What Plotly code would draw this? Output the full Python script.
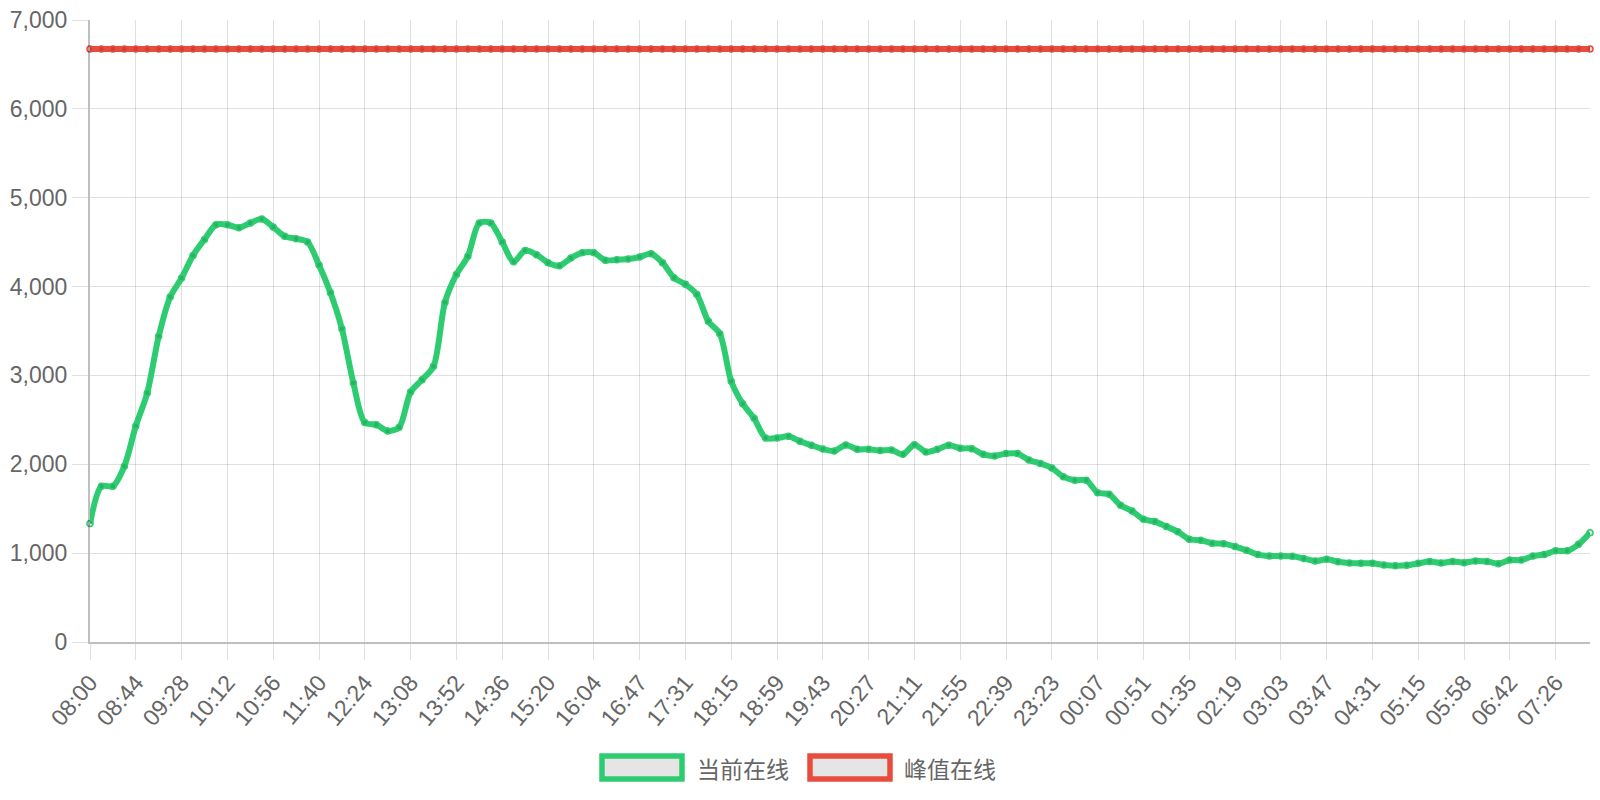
import plotly.graph_objects as go

# ---- data ----
tick_labels = ["08:00", "08:44", "09:28", "10:12", "10:56", "11:40", "12:24", "13:08",
               "13:52", "14:36", "15:20", "16:04", "16:47", "17:31", "18:15", "18:59",
               "19:43", "20:27", "21:11", "21:55", "22:39", "23:23", "00:07", "00:51",
               "01:35", "02:19", "03:03", "03:47", "04:31", "05:15", "05:58", "06:42",
               "07:26"]
points_per_label = 4

current_online = [
    1333, 1753, 1753, 1978, 2431, 2803, 3440, 3883, 4096, 4351,
    4531, 4696, 4696, 4662, 4715, 4760, 4670, 4565, 4539, 4501,
    4242, 3930, 3526, 2915, 2469, 2446, 2375, 2416, 2814, 2952,
    3102, 3822, 4137, 4340, 4715, 4715, 4501, 4280, 4407, 4359,
    4269, 4235, 4321, 4381, 4381, 4295, 4302, 4310, 4332, 4370,
    4269, 4100, 4025, 3912, 3609, 3470, 2934, 2682, 2517, 2296,
    2296, 2315, 2260, 2214, 2172, 2150, 2217, 2169, 2169, 2154,
    2161, 2112, 2221, 2139, 2169, 2214, 2180, 2176, 2112, 2094,
    2120, 2120, 2049, 2008, 1958, 1861, 1820, 1820, 1681, 1662,
    1539, 1475, 1381, 1355, 1299, 1242, 1156, 1145, 1111, 1107,
    1074, 1032, 984, 969, 969, 965, 941, 911, 930, 904,
    889, 885, 885, 867, 859, 863, 885, 907, 889, 907,
    893, 911, 907, 881, 922, 922, 967, 985, 1026, 1026,
    1100, 1230,
]
peak_value = 6675
peak_online = [peak_value] * len(current_online)

series_names = ["当前在线", "峰值在线"]
series_colors = ["#2ecc71", "#e74c3c"]

x_idx = list(range(len(current_online)))
tick_vals = [i * points_per_label for i in range(len(tick_labels))]

fig = go.Figure()
for name, vals, col in [(series_names[1], peak_online, series_colors[1]),
                        (series_names[0], current_online, series_colors[0])]:
    fig.add_trace(go.Scatter(
        x=x_idx, y=vals, name=name, mode="lines+markers",
        line=dict(color=col, width=6, shape="spline", smoothing=0.8),
        marker=dict(size=6, color="rgba(0,0,0,0.12)", line=dict(color=col, width=1.5)),
        cliponaxis=False, showlegend=False,
    ))

grid_col = "rgba(0,0,0,0.12)"
fig.update_layout(
    width=1600, height=800,
    margin=dict(l=90, r=10, t=20, b=158, autoexpand=False),
    paper_bgcolor="white", plot_bgcolor="white",
    font=dict(family="Liberation Sans, Arial, sans-serif", size=23, color="#666"),
    xaxis=dict(
        range=[0, len(current_online) - 1],
        tickmode="array", tickvals=tick_vals, ticktext=tick_labels,
        tickangle=-50, showgrid=True, gridcolor=grid_col, gridwidth=1.3,
        ticks="outside", ticklen=16, tickcolor=grid_col, tickwidth=1.3,
        zeroline=False, showline=True, linecolor="rgba(0,0,0,0.25)", linewidth=2,
        tickfont=dict(size=23, color="#666"), automargin=False,
    ),
    yaxis=dict(
        range=[0, 7000], dtick=1000, tickformat=",d",
        showgrid=True, gridcolor=grid_col, gridwidth=1.3,
        ticks="outside", ticklen=16, tickcolor=grid_col, tickwidth=1.3,
        zeroline=False, showline=True, linecolor="rgba(0,0,0,0.25)", linewidth=2,
        tickfont=dict(size=23, color="#666"), automargin=False,
    ),
)

# legend drawn as boxes + text under the plot (Chart.js style)
plot_w, plot_h, left, top = 1500.0, 622.0, 90.0, 20.0
def px(xp):
    return (xp - left) / plot_w
def py(yp):
    return (top + plot_h - yp) / plot_h

legend_items = [(series_names[0], series_colors[0], 602, 695),
                (series_names[1], series_colors[1], 810, 902)]
for name, col, bx, tx in legend_items:
    fig.add_shape(type="rect", xref="paper", yref="paper",
                  x0=px(bx), x1=px(bx + 80), y0=py(779), y1=py(756),
                  line=dict(color=col, width=5.5), fillcolor="rgba(0,0,0,0.1)")
    fig.add_annotation(xref="paper", yref="paper", x=px(tx), y=py(767.5),
                       text=name, showarrow=False, xanchor="left", yanchor="middle",
                       font=dict(family="Noto Sans CJK SC", size=23, color="#666"))

fig.write_html("out.html", config={"displayModeBar": False},
               post_script="document.body.style.margin='0';document.body.style.overflow='hidden';")
